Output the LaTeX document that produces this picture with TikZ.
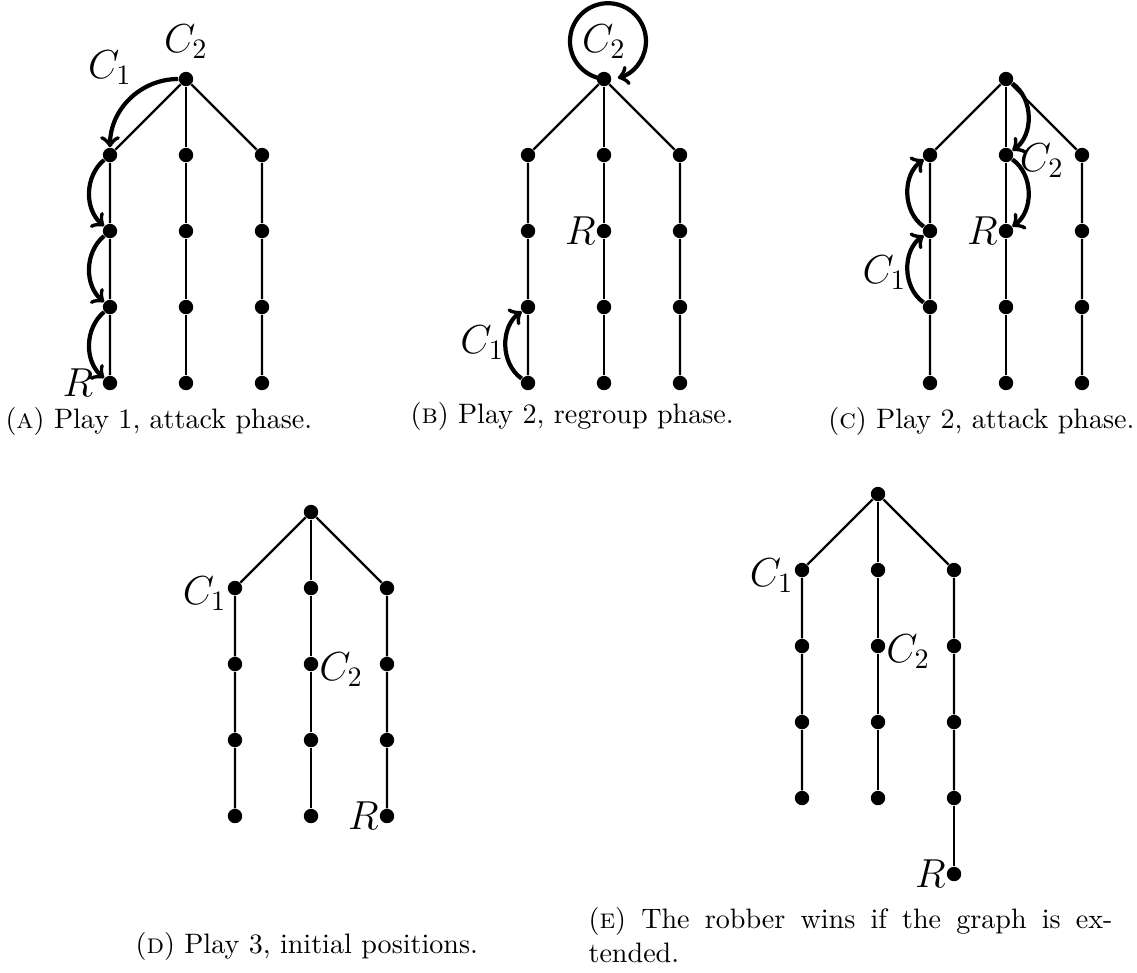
\documentclass[tikz,border=0pt]{standalone}
\usepackage{amsmath}
\usetikzlibrary{positioning}

\begin{document}
\begin{tikzpicture}[
  vtx/.style={circle, fill, inner sep=0pt, minimum size=0.18cm},
  tree/.style={thick},
  move/.style={->, line width=1.5pt},
  lbl/.style={font=\Large, inner sep=0pt},
  capt/.style={inner sep=0pt}]
\useasboundingbox (0,0) rectangle (14.2125,-12.15);

% (a) first play, attack
\begin{scope}[shift={(1.375,-1.9375)}, x=0.95cm, y=0.95cm]
\node[vtx] (aR) at (1,1) {};
\foreach \c in {0,1,2} {
  \foreach \l in {1,...,4} \node[vtx] (a\c\l) at (\c,1-\l) {};
  \draw[tree] (aR) -- (a\c1) -- (a\c2) -- (a\c3) -- (a\c4);
}
\node[lbl, above=0.15cm of aR] (aC2) {$C_2$};
\node[lbl] (aC1) at (0,1.15) {$C_1$};
\node[lbl, left=3pt of a04] (aRob) {$R$};
\draw[move] (aR) to[out=180, in=90] (a01);
\draw[move] (a01) to[bend right=50] (a02);
\draw[move] (a02) to[bend right=50] (a03);
\draw[move] (a03) to[bend right=50] (a04);
\end{scope}

% (b) second play, regroup
\begin{scope}[shift={(6.6,-1.9375)}, x=0.95cm, y=0.95cm]
\node[vtx] (bR) at (1,1) {};
\foreach \c in {0,1,2} {
  \foreach \l in {1,...,4} \node[vtx] (b\c\l) at (\c,1-\l) {};
  \draw[tree] (bR) -- (b\c1) -- (b\c2) -- (b\c3) -- (b\c4);
}
\node[lbl, above=0.15cm of bR] (bC2) {$C_2$};
\node[lbl] (bC1) at (-0.6,-2.47) {$C_1$};
\node[lbl, left=0pt of b12] (bRob) {$R$};
\draw[move] (bR) arc[start angle=-96, end angle=-435, radius=0.5];
\draw[move] (b04) to[bend left=55] (b03);
\end{scope}

% (c) second play, attack
\begin{scope}[shift={(11.625,-1.9375)}, x=0.95cm, y=0.95cm]
\node[vtx] (cR) at (1,1) {};
\foreach \c in {0,1,2} {
  \foreach \l in {1,...,4} \node[vtx] (c\c\l) at (\c,1-\l) {};
  \draw[tree] (cR) -- (c\c1) -- (c\c2) -- (c\c3) -- (c\c4);
}
\node[lbl, right=2pt of c11, yshift=-2pt] (cC2) {$C_2$};
\node[lbl, left=0pt of c12] (cRob) {$R$};
\node[lbl] (cC1) at (-0.6,-1.55) {$C_1$};
\draw[move] (cR) to[bend left=55] (c11);
\draw[move] (c11) to[bend left=55] (c12);
\draw[move] (c03) to[bend left=55] (c02);
\draw[move] (c02) to[bend left=55] (c01);
\end{scope}

% (d) third play, start
\begin{scope}[shift={(2.9375,-7.35)}, x=0.95cm, y=0.95cm]
\node[vtx] (dR) at (1,1) {};
\foreach \c in {0,1,2} {
  \foreach \l in {1,...,4} \node[vtx] (d\c\l) at (\c,1-\l) {};
  \draw[tree] (dR) -- (d\c1) -- (d\c2) -- (d\c3) -- (d\c4);
}
\node[lbl, left=0pt of d01, yshift=-2pt] (dC1) {$C_1$};
\node[lbl, right=0pt of d12, yshift=-2pt] (dC2) {$C_2$};
\node[lbl, left=0pt of d24] (dRob) {$R$};
\end{scope}

% (e) longer branch
\begin{scope}[shift={(10.025,-7.125)}, x=0.95cm, y=0.95cm]
\node[vtx] (eR) at (1,1) {};
\foreach \c in {0,1,2} {
  \foreach \l in {1,...,4} \node[vtx] (e\c\l) at (\c,1-\l) {};
  \draw[tree] (eR) -- (e\c1) -- (e\c2) -- (e\c3) -- (e\c4);
}
\node[vtx] (e25) at (2,-4) {};
\draw[tree] (e24) -- (e25);
\node[lbl, left=0pt of e01, yshift=-2pt] (eC1) {$C_1$};
\node[lbl, right=0pt of e12, yshift=-2pt] (eC2) {$C_2$};
\node[lbl, left=0pt of e25] (eRob) {$R$};
\end{scope}

% captions
\node[capt, anchor=base west] (capA) at (0.0625,-5.35) {(\textsc{a}) Play 1, attack phase.};
\node[capt, anchor=base west] (capB) at (5.125,-5.2875) {(\textsc{b}) Play 2, regroup phase.};
\node[capt, anchor=base east] (capC) at (14.1875,-5.35) {(\textsc{c}) Play 2, attack phase.};
\node[capt, anchor=base west] (capD) at (1.6875,-11.9125) {(\textsc{d}) Play 3, initial positions.};
\node[capt, anchor=north west, align=left] (capE) at (7.35,-11.34)
  {\makebox[6.55cm][s]{(\textsc{e}) The robber wins if the graph is ex-}\\tended.};
\end{tikzpicture}
\end{document}
